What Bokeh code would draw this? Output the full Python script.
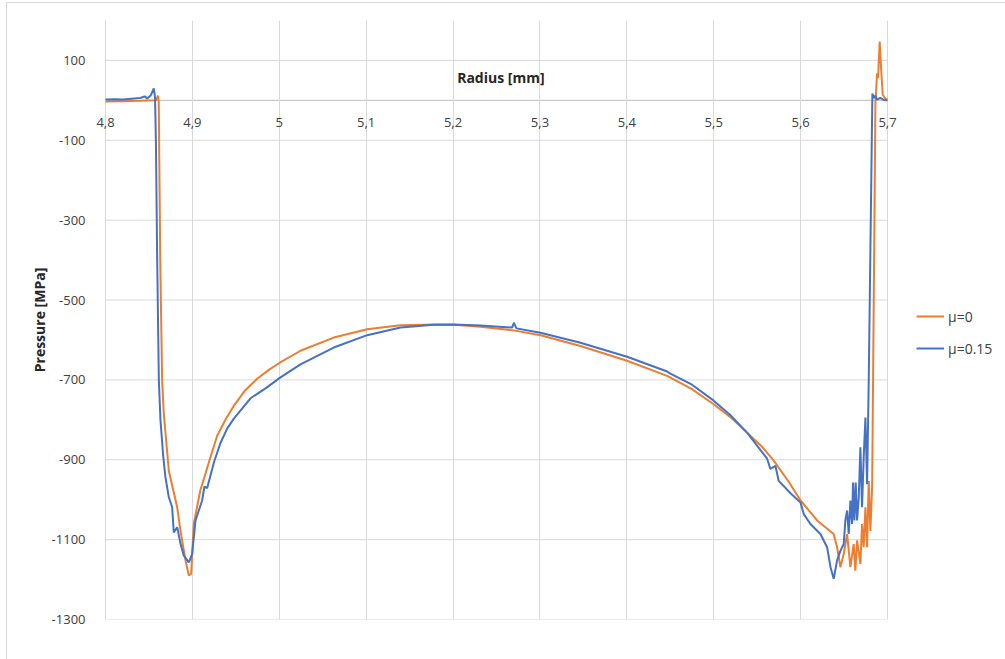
from bokeh.plotting import figure
from bokeh.models import (FixedTicker, CustomJSTickFormatter, Legend, LegendItem, Label)
from bokeh.embed import file_html
from bokeh.resources import INLINE

# ---- data ----
r_mu0 = [4.800, 4.820, 4.840, 4.858, 4.8605, 4.8613, 4.8630, 4.8652, 4.8671, 4.8729,
         4.8825, 4.8863, 4.8921, 4.8959, 4.8986, 4.9016, 4.9093, 4.9150, 4.9220, 4.9285,
         4.9380, 4.9477, 4.9600, 4.9745, 4.9880, 5.0006, 5.0244, 5.0627, 5.1011, 5.1395,
         5.1778, 5.2008, 5.2315, 5.2699, 5.3006, 5.3466, 5.4003, 5.4464, 5.4750, 5.5000,
         5.5200, 5.5384, 5.5550, 5.5691, 5.5863, 5.600, 5.619, 5.638, 5.642, 5.6458,
         5.6496, 5.6535, 5.6573, 5.6611, 5.6630, 5.6650, 5.6688, 5.6707, 5.6726, 5.6746,
         5.6765, 5.6784, 5.6803, 5.6823, 5.6834, 5.6861, 5.6880, 5.6891, 5.6910, 5.6926,
         5.6945, 5.6976, 5.700]
p_mu0 = [-3, -2, -1, 0, 12, -5, -400, -702, -785, -928,
         -1019, -1078, -1152, -1190, -1185, -1060, -975, -935, -885, -840,
         -800, -765, -728, -697, -675, -657, -627, -594, -573, -563,
         -561, -562, -567, -576, -588, -615, -652, -690, -723, -761,
         -795, -832, -866, -902, -955, -1002, -1052, -1086, -1119, -1169,
         -1136, -1086, -1169, -1111, -1178, -1102, -1161, -1061, -1119, -1019,
         -1119, -953, -1078, -969, -702, -5, 68, 56, 147, 81,
         14, 4, 2]

r_mu015 = [4.800, 4.810, 4.820, 4.830, 4.840, 4.845, 4.848, 4.852, 4.8556, 4.8570,
           4.8580, 4.8595, 4.8614, 4.8633, 4.8664, 4.8690, 4.8729, 4.8767, 4.8786, 4.8825,
           4.8863, 4.8901, 4.8959, 4.8997, 4.9036, 4.9074, 4.9112, 4.9139, 4.9170, 4.9250,
           4.9323, 4.9400, 4.9477, 4.9669, 4.9850, 5.0006, 5.0244, 5.0627, 5.1011, 5.1395,
           5.1778, 5.2008, 5.2315, 5.2680, 5.2700, 5.2730, 5.3006, 5.3466, 5.4003, 5.4464,
           5.4490, 5.4750, 5.5000, 5.5200, 5.5384, 5.5614, 5.5652, 5.5710, 5.5748, 5.5884,
           5.5999, 5.6036, 5.6113, 5.6228, 5.6305, 5.6344, 5.6381, 5.6420, 5.6458, 5.6496,
           5.6515, 5.6535, 5.6554, 5.6573, 5.6592, 5.6603, 5.6619, 5.6634, 5.6650, 5.6669,
           5.6688, 5.6707, 5.6726, 5.6746, 5.6765, 5.6784, 5.6826, 5.6842, 5.6861, 5.6880,
           5.6918, 5.6956, 5.700]
p_mu015 = [2, 3, 2, 4, 6, 10, 5, 12, 30, 8,
           -100, -400, -702, -802, -890, -944, -994, -1019, -1082, -1069,
           -1110, -1140, -1157, -1136, -1052, -1027, -1002, -967, -971, -905,
           -858, -822, -797, -746, -720, -695, -661, -619, -588, -569,
           -562, -561, -564, -569, -557, -571, -582, -607, -642, -679,
           -683, -712, -752, -790, -832, -897, -923, -915, -953, -984,
           -1007, -1036, -1061, -1086, -1119, -1169, -1198, -1152, -1128, -1111,
           -1052, -1027, -1086, -1002, -1061, -957, -1052, -957, -1052, -994,
           -869, -1019, -894, -794, -961, -702, 17, 6, 12, 2,
           6, 1, 0]

x_ticks = [4.8, 4.9, 5.0, 5.1, 5.2, 5.3, 5.4, 5.5, 5.6, 5.7]
y_ticks = [100, -100, -300, -500, -700, -900, -1100, -1300]
series_labels = ["\u03bc=0", "\u03bc=0.15"]
x_title = "Radius [mm]"
y_title = "Pressure [MPa]"

ORANGE = "#ED7D31"
BLUE = "#4472C4"
GRID = "#d9d9d9"
FONT = "Open Sans"

EXT = 14.0 / 869.0   # small padding so that the edge tick labels are not clipped

p = figure(frame_width=810, frame_height=599,
           x_range=(x_ticks[0] - EXT, x_ticks[-1] + EXT), y_range=(-1300, 200),
           output_backend="svg", toolbar_location=None,
           min_border_left=84, min_border_right=104, min_border_top=17, min_border_bottom=40)
p.styles = {"margin-left": "6px", "margin-top": "2px",
            "border-left": "1px solid #d9d9d9", "border-top": "1px solid #d9d9d9"}
p.outline_line_color = None
p.background_fill_color = "white"

# horizontal grid lines limited to the data span
n = len(y_ticks)
p.segment(x0=[x_ticks[0]] * n, x1=[x_ticks[-1]] * n, y0=y_ticks, y1=y_ticks,
          line_color=GRID, line_width=1, level="underlay")
# x axis line at y = 0
p.segment(x0=[x_ticks[0]], x1=[x_ticks[-1]], y0=[0], y1=[0],
          line_color="#bfbfbf", line_width=1, level="underlay")

# x axis crossing at y = 0
xa = p.xaxis[0]
xa.fixed_location = 0
xa.ticker = FixedTicker(ticks=x_ticks)
xa.formatter = CustomJSTickFormatter(code="var s = (Math.round(tick*10)/10).toString(); return s.replace('.', ',');")
xa.axis_line_color = None
xa.major_tick_line_color = None
xa.minor_tick_line_color = None
xa.major_label_standoff = 12
xa.major_label_text_font = FONT
xa.major_label_text_font_size = "13px"
xa.major_label_text_color = "#404040"

ya = p.yaxis[0]
ya.ticker = FixedTicker(ticks=y_ticks)
ya.formatter = CustomJSTickFormatter(code="return tick.toFixed(0);")
ya.axis_line_color = None
ya.major_tick_line_color = None
ya.minor_tick_line_color = None
ya.major_label_standoff = 0
ya.major_label_text_font = FONT
ya.major_label_text_font_size = "13px"
ya.major_label_text_color = "#404040"
ya.axis_label = y_title
ya.axis_label_text_font = FONT
ya.axis_label_text_font_size = "14px"
ya.axis_label_text_font_style = "bold"
ya.axis_label_text_color = "#262626"
ya.axis_label_standoff = 0

p.xgrid.ticker = FixedTicker(ticks=x_ticks)
p.xgrid.grid_line_color = GRID
p.ygrid.grid_line_color = None

r0 = p.line(r_mu0, p_mu0, line_color=ORANGE, line_width=2)
r1 = p.line(r_mu015, p_mu015, line_color=BLUE, line_width=2)

p.add_layout(Label(x=5.255, y=57, text=x_title, text_align="center", text_baseline="middle",
                   text_font=FONT, text_font_size="14px", text_font_style="bold",
                   text_color="#262626"))

legend = Legend(items=[LegendItem(label=series_labels[0], renderers=[r0]),
                       LegendItem(label=series_labels[1], renderers=[r1])],
                location=(15, 261), border_line_color=None, background_fill_alpha=0,
                label_text_font=FONT, label_text_font_size="14px", label_text_color="#404040",
                glyph_width=28, label_standoff=4, spacing=12, margin=0, padding=5)
p.add_layout(legend, "right")

open("out.html", "w").write(file_html(p, INLINE))
